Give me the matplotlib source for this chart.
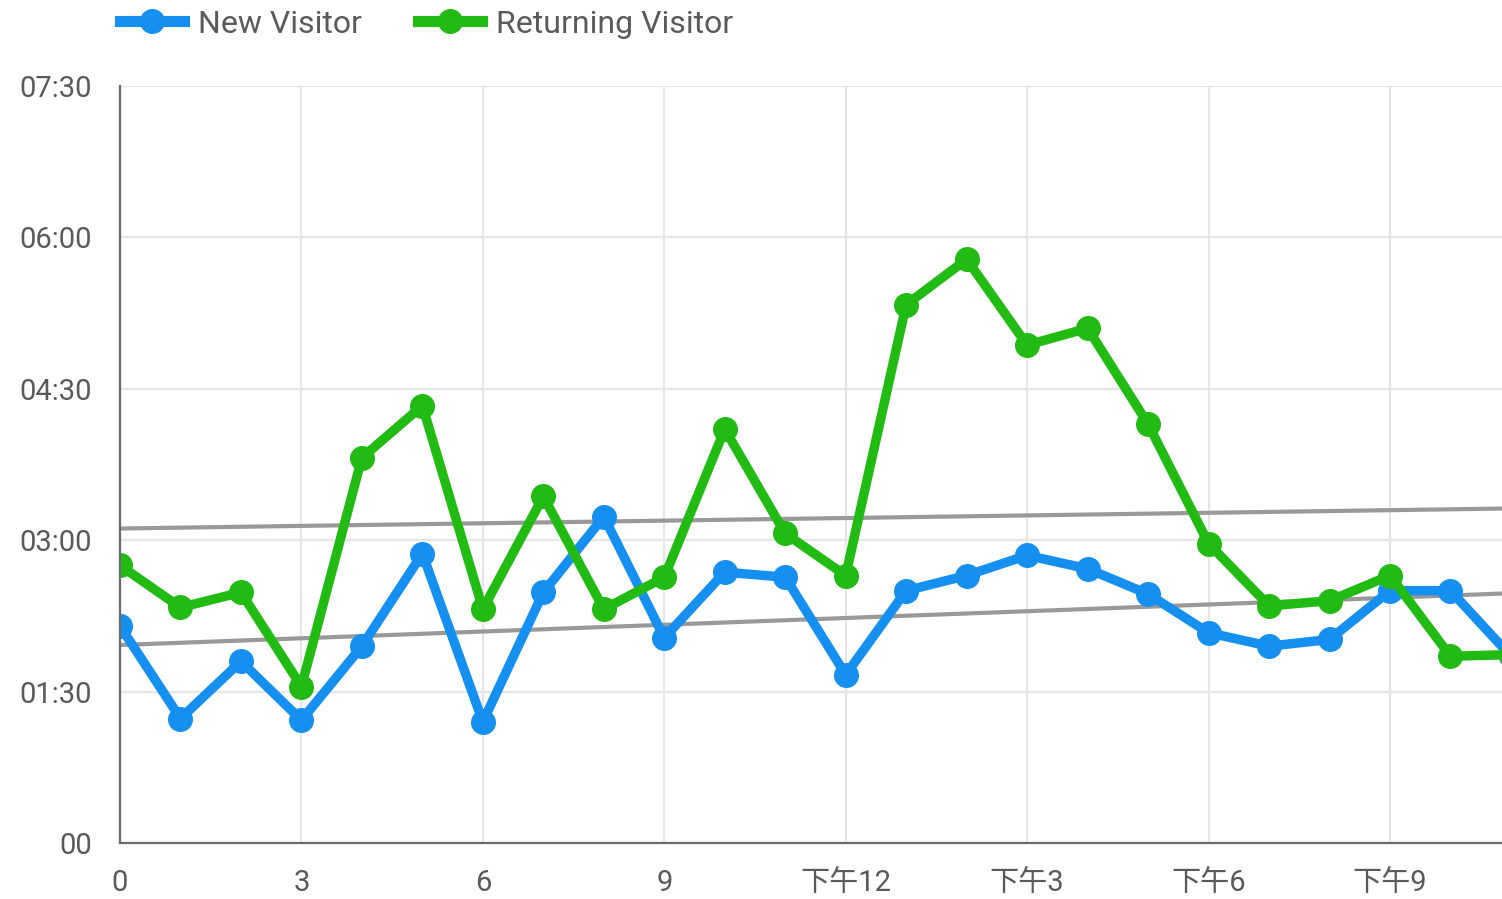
#!/usr/bin/env python3
"""Average session duration by hour: new vs returning visitors."""

import matplotlib

matplotlib.use("Agg")
import matplotlib.pyplot as plt  # noqa: E402
import numpy as np  # noqa: E402

HOURS = list(range(24))
NEW_VISITOR = [129, 74, 108, 73, 117, 172, 72, 149, 194, 122, 161, 158,
               100, 150, 159, 171, 163, 148, 125, 117, 121, 150, 150, 111]
RETURNING_VISITOR = [165, 140, 149, 93, 229, 260, 139, 206, 139, 158, 246, 184,
                     159, 320, 347, 296, 306, 249, 178, 141, 144, 159, 111, 112]
X_TICKS = [0, 3, 6, 9, 12, 15, 18, 21]
X_LABELS = ["0", "3", "6", "9", "下午12", "下午3", "下午6", "下午9"]
Y_TICKS = [0, 90, 180, 270, 360, 450]
Y_LABELS = ["00", "01:30", "03:00", "04:30", "06:00", "07:30"]

BLUE = "#1690f0"
GREEN = "#22bb14"
TEXT = "#5a5a5a"

plt.rcParams["font.family"] = ["Roboto", "Noto Sans CJK SC", "DejaVu Sans"]

fig = plt.figure(figsize=(15.02, 8.99), dpi=100)
ax = fig.add_axes([120 / 1502, 1 - 843 / 899, 1 - 120 / 1502, (843 - 86) / 899])

for vals, color, label in ((NEW_VISITOR, BLUE, "New Visitor"),
                           (RETURNING_VISITOR, GREEN, "Returning Visitor")):
    ax.plot(HOURS, vals, color=color, lw=6.8, marker="o", ms=17,
            label=label, zorder=3)

# linear trend lines
for vals in (RETURNING_VISITOR, NEW_VISITOR):
    k, b = np.polyfit(HOURS, vals, 1)
    xs = np.array([0, 24])
    ax.plot(xs, k * xs + b, color="#999999", lw=3.0, zorder=2)

ax.set_xlim(0, (1502 - 120) / ((1390 - 120) / 21))
ax.set_ylim(0, 450)
ax.set_xticks(X_TICKS, X_LABELS)
ax.set_yticks(Y_TICKS, Y_LABELS)
ax.tick_params(length=0, labelsize=21, labelcolor=TEXT)
ax.tick_params(axis="y", pad=20)
ax.tick_params(axis="x", pad=19)
ax.grid(True, color="#e6e6e6", lw=1.6, zorder=0)
for side in ("top", "right"):
    ax.spines[side].set_visible(False)
for side in ("left", "bottom"):
    ax.spines[side].set_color("#6a6a6a")
    ax.spines[side].set_linewidth(1.6)
    ax.spines[side].set_zorder(4)

leg = ax.legend(loc="center left", bbox_to_anchor=(0.0, 1 + (86 - 24) / 757),
                ncol=2, frameon=False, fontsize=23, handlelength=2.0,
                handletextpad=0.45, columnspacing=1.75, borderaxespad=0,
                borderpad=0)
for line in leg.get_lines():
    line.set_linewidth(8)
for text in leg.get_texts():
    text.set_color(TEXT)

fig.savefig("out.png", dpi=100)
